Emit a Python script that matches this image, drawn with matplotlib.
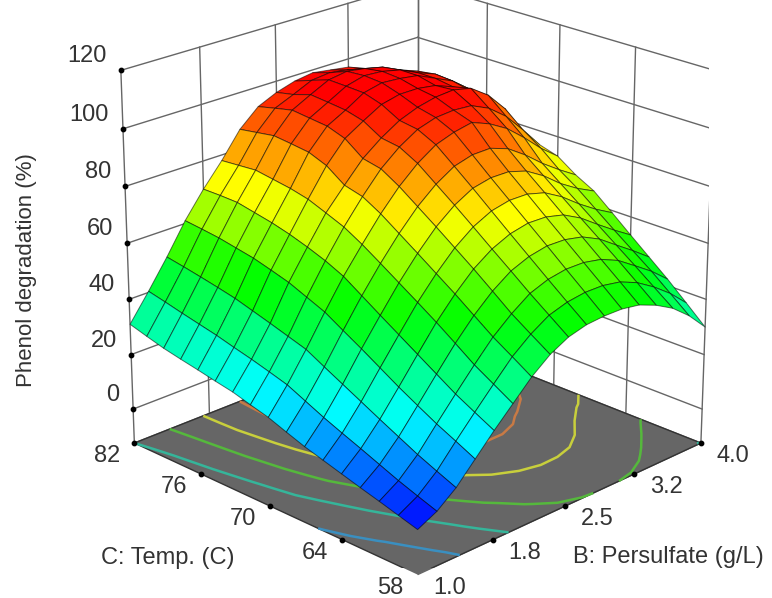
import matplotlib
matplotlib.use('Agg')
import numpy as np
import matplotlib.pyplot as plt
from matplotlib.colors import LinearSegmentedColormap
from mpl_toolkits.mplot3d import proj3d

plt.rcParams['font.family'] = ['Liberation Sans', 'DejaVu Sans']

persulfate = [1.0, 1.1875, 1.375, 1.5625, 1.75, 1.9375, 2.125, 2.3125, 2.5,
              2.6875, 2.875, 3.0625, 3.25, 3.4375, 3.625, 3.8125, 4.0]
temp = [58.0, 59.5, 61.0, 62.5, 64.0, 65.5, 67.0, 68.5, 70.0,
        71.5, 73.0, 74.5, 76.0, 77.5, 79.0, 80.5, 82.0]

# degradation, one row per temperature
degradation = [
    [3, 6.3, 11.5, 18.5, 25.5, 32, 38.5, 43.6, 47, 48.7, 49.2, 49.1, 48, 45.4, 41.8, 36.6, 30],
    [4.9, 8.6, 14.3, 21.8, 29, 36, 42.8, 48, 52, 54, 54.9, 54.8, 53.6, 50.9, 46.9, 42.1, 36.2],
    [6.8, 11, 17.2, 25, 32.6, 40, 47, 52.5, 57, 59.4, 60.5, 60.4, 59.1, 56.3, 52, 47.6, 42.3],
    [8.6, 13.7, 20.5, 28.6, 36.8, 44.8, 51.9, 57.8, 62.3, 64.9, 66.2, 66, 64.6, 61.5, 57, 52.6, 47.9],
    [10.5, 16.4, 23.8, 32.3, 41, 49.5, 56.8, 63, 67.5, 70.4, 71.8, 71.6, 70, 66.6, 62, 57.6, 53.5],
    [12.4, 19, 27.2, 36.3, 45.2, 53.9, 61.4, 67.9, 72.8, 76, 77.4, 77.3, 75.5, 71.8, 67, 62.8, 59.2],
    [14.3, 21.7, 30.6, 40.3, 49.4, 58.2, 66, 72.8, 78, 81.6, 83, 82.9, 80.9, 77, 72, 68, 64.8],
    [16.6, 24.7, 34, 44.1, 53.7, 62.5, 70.5, 77.5, 83, 87, 88.8, 88.9, 86.6, 82.2, 77, 72.5, 68.4],
    [19, 27.7, 37.5, 48, 58, 66.7, 75, 82.2, 88, 92.3, 94.5, 95.8, 93.2, 89.4, 84, 78, 73],
    [20.7, 29.6, 39.5, 50.7, 61, 70.4, 78.7, 86.1, 91.5, 95.5, 97.5, 98, 97.5, 94.5, 89.5, 82.5, 75],
    [22.5, 31.4, 41.5, 53.4, 63.4, 73, 80.4, 87.5, 92.5, 96.5, 99, 100.5, 101, 99.5, 95, 88, 77],
    [23.7, 33, 43.4, 55.3, 65.5, 75.5, 85, 92.3, 96.3, 100, 101.5, 101.5, 100.5, 98, 94.5, 89, 78],
    [25, 34.7, 45.3, 57.1, 67.2, 77, 87.5, 94.5, 98, 102, 103.5, 103, 102, 99, 96, 91, 81],
    [26.2, 36.1, 46.7, 58.3, 68.5, 78, 88.3, 95.2, 98.7, 102.3, 104, 103.5, 102, 99, 96.5, 92, 81.5],
    [27.5, 37.5, 48, 59.5, 69.8, 79, 89, 95.9, 99.3, 102.5, 103.5, 102.5, 101, 98, 95.5, 92, 81.5],
    [29.2, 39, 49.2, 60.3, 70, 78.5, 88, 94.5, 97.3, 100.3, 101, 100, 98.5, 95.5, 93.5, 90, 79.3],
    [31, 40.4, 50.3, 61, 70, 78, 87, 93, 96, 98, 99, 98, 97, 94, 92, 88, 77],
]

pers_ticks = [1.0, 1.75, 2.5, 3.25, 4.0]
pers_labels = ['1.0', '1.8', '2.5', '3.2', '4.0']
temp_ticks = [58, 64, 70, 76, 82]
z_ticks = [0, 20, 40, 60, 80, 100, 120]
contour_levels = [13, 31, 49, 67, 84]
contour_colors = ['#3a8fc0', '#35b59a', '#55b83c', '#c8cf3c', '#c87a45']

z_floor = -12.6
z_top = 120
line_col = '#666666'
text_col = '#333333'

surface_map = LinearSegmentedColormap.from_list('de', [
    (0.0, '#0000ff'), (0.22, '#00ffff'), (0.475, '#00ff00'), (0.72, '#ffff00'), (0.98, '#ff0000'), (1.0, '#ff0000')])

fig = plt.figure(figsize=(7.72, 5.98), dpi=100)
ax = fig.add_axes([0.143, 0.05, 0.775, 1.0], projection='3d')
ax.set_proj_type('persp', focal_length=1.0)
ax.view_init(elev=22, azim=-135)
ax.set_box_aspect((1, 1, 0.98), zoom=1.145)
ax.computed_zorder = False
ax.patch.set_alpha(0)

ax.set_xlim(1.0, 4.0)
ax.set_ylim(58, 82)
ax.set_zlim(z_floor, z_top)

ax.set_xticks([])
ax.set_yticks([])
ax.set_zticks([])
ax.grid(False)
for axis in (ax.xaxis, ax.yaxis, ax.zaxis):
    axis.line.set_color((0, 0, 0, 0))
    axis.pane.set_edgecolor((0, 0, 0, 0))
ax.xaxis.set_pane_color('white')
ax.yaxis.set_pane_color('white')
ax.zaxis.set_pane_color('#666666')

# walls
for p in pers_ticks:
    ax.plot([p, p], [82, 82], [z_floor, z_top], color=line_col, lw=1, zorder=1)
for t in temp_ticks:
    ax.plot([4, 4], [t, t], [z_floor, z_top], color=line_col, lw=1, zorder=1)
for z in z_ticks:
    ax.plot([1, 4], [82, 82], [z, z], color=line_col, lw=1, zorder=1)
    ax.plot([4, 4], [82, 58], [z, z], color=line_col, lw=1, zorder=1)
ax.plot([1, 4], [82, 82], [z_floor, z_floor], color='#333333', lw=1, zorder=1)
ax.plot([4, 4], [82, 58], [z_floor, z_floor], color='#333333', lw=1, zorder=1)
ax.plot([1, 4], [58, 58], [z_floor, z_floor], color='#333333', lw=1, zorder=2)
ax.plot([1, 1], [58, 82], [z_floor, z_floor], color='#333333', lw=1, zorder=2)

X, Y = np.meshgrid(persulfate, temp)
Z = np.array(degradation)

ax.contour(X, Y, Z, levels=contour_levels, colors=contour_colors, linewidths=1.8,
           zdir='z', offset=z_floor, zorder=2)

ax.plot_surface(X, Y, Z, rstride=1, cstride=1, cmap=surface_map, vmin=3, vmax=102,
                shade=False, edgecolor=(0, 0, 0, 0.55), linewidth=0.7, zorder=5)

# tick dots
ax.scatter([1] * len(z_ticks), [82] * len(z_ticks), z_ticks, color='black', s=10,
           depthshade=False, zorder=6)
ax.scatter(pers_ticks, [58] * 5, [z_floor] * 5, color='black', s=10, depthshade=False, zorder=6)
ax.scatter([1] * 5, temp_ticks, [z_floor] * 5, color='black', s=10, depthshade=False, zorder=6)


def tick_label(p, t, z, text, dx, dy, ha):
    # label next to a tick dot, offset in pixels
    x2, y2, _ = proj3d.proj_transform(p, t, z, ax.get_proj())
    ax.annotate(text, xy=(x2, y2), xycoords='data', xytext=(dx, dy), textcoords='offset pixels',
                fontsize=17, color=text_col, ha=ha, va='center', annotation_clip=False)


for z in z_ticks:
    tick_label(1, 82, z, str(z), -14, 14, 'right')
for p, lab in zip(pers_ticks, pers_labels):
    tick_label(p, 58, z_floor, lab, 32, -13, 'center')
for t in temp_ticks:
    tick_label(1, t, z_floor, str(t), -27, -13, 'center')

fig.text(27 / 772, 1 - 270 / 598, 'Phenol degradation (%)', rotation=90, fontsize=16,
         color=text_col, ha='center', va='center')
fig.text(168 / 772, 1 - 558 / 598, 'C: Temp. (C)', fontsize=17, color=text_col, ha='center', va='center')
fig.text(668 / 772, 1 - 557 / 598, 'B: Persulfate (g/L)', fontsize=17, color=text_col, ha='center', va='center')

fig.savefig('out.png', dpi=100)
